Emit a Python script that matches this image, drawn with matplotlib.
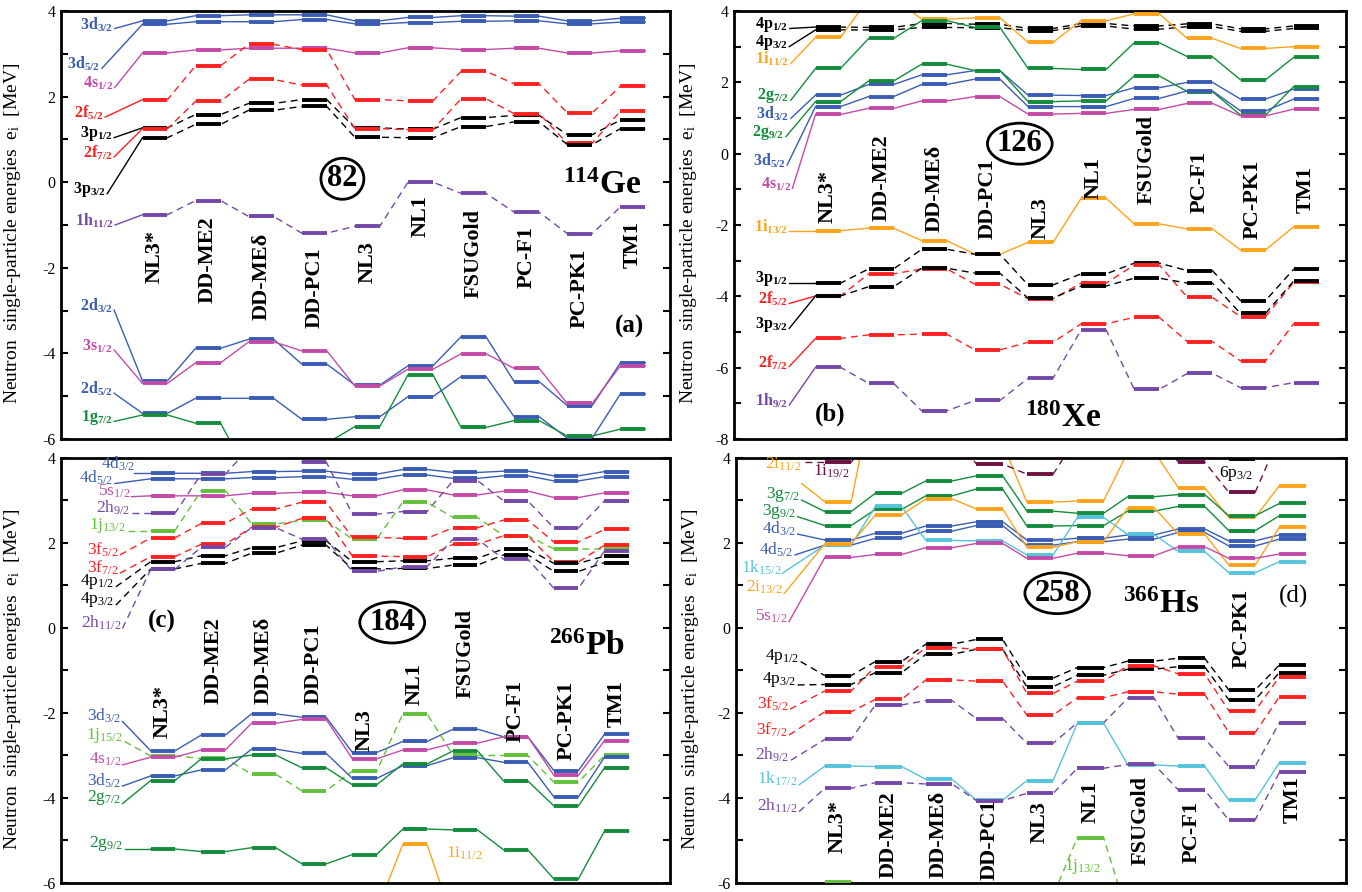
import numpy as np
import matplotlib
matplotlib.use("Agg")
import matplotlib.pyplot as plt
from matplotlib.ticker import MultipleLocator

plt.rcParams['font.family'] = ['Liberation Serif', 'DejaVu Serif']
plt.rcParams['mathtext.default'] = 'regular'
plt.rcParams['axes.unicode_minus'] = False

MODELS = ["NL3*", "DD-ME2", "DD-MEδ", "DD-PC1", "NL3", "NL1", "FSUGold", "PC-F1", "PC-PK1", "TM1"]

# ---------------- panel (a): 114Ge ----------------
A_LEVELS = ["3d$_{3/2}$", "3d$_{5/2}$", "4s$_{1/2}$", "2f$_{5/2}$", "3p$_{1/2}$", "2f$_{7/2}$",
            "3p$_{3/2}$", "1h$_{11/2}$", "2d$_{3/2}$", "3s$_{1/2}$", "2d$_{5/2}$", "1g$_{7/2}$"]
A_ENERGY = [
    [3.77, 3.89, 3.91, 3.91, 3.77, 3.85, 3.89, 3.88, 3.77, 3.83],
    [3.69, 3.75, 3.75, 3.80, 3.70, 3.73, 3.76, 3.77, 3.70, 3.74],
    [3.02, 3.09, 3.13, 3.13, 3.02, 3.14, 3.10, 3.13, 3.02, 3.07],
    [1.93, 2.72, 3.22, 3.10, 1.93, 1.90, 2.59, 2.30, 1.62, 2.24],
    [1.27, 1.58, 1.84, 1.93, 1.27, 1.24, 1.51, 1.56, 1.11, 1.45],
    [1.25, 1.89, 2.40, 2.27, 1.25, 1.23, 1.95, 1.60, 0.91, 1.66],
    [1.04, 1.35, 1.68, 1.77, 1.05, 1.04, 1.30, 1.41, 0.88, 1.25],
    [-0.76, -0.43, -0.80, -1.19, -1.03, 0.00, -0.26, -0.70, -1.20, -0.58],
    [-4.64, -3.88, -3.67, -4.25, -4.74, -4.29, -3.61, -4.66, -5.22, -4.22],
    [-4.70, -4.22, -3.73, -3.94, -4.76, -4.37, -4.01, -4.35, -5.17, -4.29],
    [-5.40, -5.05, -5.05, -5.54, -5.48, -5.01, -4.54, -5.48, -5.98, -4.95],
    [-5.44, -5.63, -6.86, -6.10, -5.71, -4.50, -5.73, -5.57, -5.93, -5.77],
]
A_LINE_Y = [3.59, 2.66, 2.21, 1.52, 1.04, 0.59, -0.27, -1.00, -2.99, -3.92, -4.93, -5.59]
A_TEXT_X = [0.21, -0.03, 0.21, 0.03, 0.20, 0.20, 0.07, 0.22, 0.20, 0.20, 0.20, 0.20]
A_COLOR = ['b', 'b', 'm', 'r', 'k', 'r', 'k', 'p', 'b', 'm', 'b', 'g']
A_DASH = [0, 0, 0, 1, 1, 1, 1, 1, 0, 0, 0, 0]
A_MODEL_BOTTOM = [-2.36, -2.82, -3.22, -3.41, -2.36, -1.28, -2.71, -2.47, -3.41, -2.00]

# ---------------- panel (b): 180Xe ----------------
B_LEVELS = ["4p$_{1/2}$", "4p$_{3/2}$", "1i$_{11/2}$", "2g$_{7/2}$", "3d$_{3/2}$", "2g$_{9/2}$",
            "3d$_{5/2}$", "4s$_{1/2}$", "1i$_{13/2}$", "3p$_{1/2}$", "2f$_{5/2}$", "3p$_{3/2}$",
            "2f$_{7/2}$", "1h$_{9/2}$"]
B_ENERGY = [
    [3.55, 3.54, 3.65, 3.63, 3.51, 3.65, 3.58, 3.64, 3.50, 3.58],
    [3.47, 3.47, 3.54, 3.53, 3.45, 3.58, 3.49, 3.56, 3.43, 3.51],
    [3.26, 4.35, 3.77, 3.81, 3.12, 3.73, 3.92, 3.23, 2.95, 3.00],
    [2.39, 3.23, 3.73, 3.54, 2.39, 2.36, 3.11, 2.72, 2.07, 2.70],
    [1.64, 1.94, 2.21, 2.33, 1.64, 1.63, 1.85, 2.00, 1.53, 1.81],
    [1.46, 2.04, 2.51, 2.33, 1.46, 1.48, 2.18, 1.74, 1.08, 1.88],
    [1.32, 1.60, 1.94, 2.09, 1.32, 1.32, 1.55, 1.76, 1.20, 1.53],
    [1.10, 1.27, 1.48, 1.60, 1.11, 1.13, 1.24, 1.41, 1.06, 1.25],
    [-2.16, -2.09, -2.44, -2.82, -2.49, -1.25, -1.97, -2.11, -2.70, -2.05],
    [-3.63, -3.23, -2.68, -2.82, -3.68, -3.37, -3.07, -3.28, -4.12, -3.24],
    [-3.99, -3.37, -3.23, -3.66, -4.07, -3.63, -3.12, -4.03, -4.57, -3.61],
    [-3.99, -3.73, -3.21, -3.35, -4.05, -3.71, -3.49, -3.63, -4.48, -3.57],
    [-5.18, -5.08, -5.06, -5.50, -5.29, -4.77, -4.59, -5.27, -5.81, -4.77],
    [-5.99, -6.44, -7.21, -6.92, -6.30, -4.94, -6.61, -6.16, -6.56, -6.42],
]
B_LINE_Y = [3.51, 3.00, 2.53, 1.50, 0.99, 0.48, -0.32, -0.97, -2.16, -3.63, -4.20, -4.90, -5.97, -7.05]
B_TEXT_X = [0.25, 0.24, 0.27, 0.27, 0.27, 0.18, 0.20, 0.30, 0.24, 0.24, 0.24, 0.24, 0.24, 0.24]
B_COLOR = ['k', 'k', 'o', 'g', 'b', 'g', 'b', 'm', 'o', 'k', 'r', 'k', 'r', 'p']
B_DASH = [1, 1, 0, 0, 0, 0, 0, 0, 0, 1, 1, 1, 1, 1]
B_MODEL_BOTTOM = [-1.95, -1.90, -2.20, -2.38, -2.38, -1.28, -1.42, -1.65, -2.38, -1.65]

# ---------------- panel (c): 266Pb ----------------
C_LEVELS = ["4d$_{3/2}$", "4d$_{5/2}$", "5s$_{1/2}$", "2h$_{9/2}$", "1j$_{13/2}$", "3f$_{5/2}$",
            "3f$_{7/2}$", "4p$_{1/2}$", "4p$_{3/2}$", "2h$_{11/2}$", "3d$_{3/2}$", "1j$_{15/2}$",
            "4s$_{1/2}$", "3d$_{5/2}$", "2g$_{7/2}$", "2g$_{9/2}$", "1i$_{11/2}$"]
C_ENERGY = [
    [3.64, 3.64, 3.68, 3.69, 3.62, 3.73, 3.66, 3.69, 3.58, 3.68],
    [3.51, 3.51, 3.54, 3.56, 3.50, 3.60, 3.52, 3.58, 3.46, 3.56],
    [3.11, 3.11, 3.17, 3.19, 3.11, 3.25, 3.13, 3.22, 3.07, 3.18],
    [2.70, 3.62, 4.30, 3.91, 2.68, 2.74, 3.47, 2.99, 2.35, 2.99],
    [2.29, 3.23, 2.45, 2.53, 2.09, 2.96, 2.60, 2.17, 1.86, 1.86],
    [2.12, 2.46, 2.80, 2.96, 2.13, 2.11, 2.36, 2.54, 2.02, 2.32],
    [1.68, 1.97, 2.37, 2.58, 1.69, 1.68, 1.97, 2.17, 1.55, 1.95],
    [1.56, 1.70, 1.89, 2.05, 1.56, 1.58, 1.64, 1.86, 1.52, 1.69],
    [1.39, 1.52, 1.76, 1.95, 1.39, 1.40, 1.48, 1.72, 1.33, 1.54],
    [1.38, 1.90, 2.36, 2.09, 1.33, 1.44, 2.09, 1.62, 0.93, 1.81],
    [-2.89, -2.52, -2.02, -2.10, -2.93, -2.67, -2.38, -2.56, -3.36, -2.50],
    [-3.01, -3.07, -3.44, -3.83, -3.37, -2.02, -3.00, -3.00, -3.63, -3.00],
    [-3.04, -2.87, -2.24, -2.15, -3.08, -2.87, -2.71, -2.56, -3.47, -2.65],
    [-3.48, -3.34, -2.85, -2.95, -3.54, -3.24, -3.05, -3.16, -3.98, -3.04],
    [-3.59, -3.08, -2.99, -3.29, -3.69, -3.20, -2.89, -3.60, -4.19, -3.29],
    [-5.20, -5.26, -5.17, -5.55, -5.33, -4.73, -4.75, -5.22, -5.91, -4.78],
    [-7.50, -7.50, -7.50, -7.50, -6.66, -5.09, -6.91, -7.50, -7.50, -7.50],
]
C_LINE_Y = [3.64, 3.40, 3.09, 2.70, 2.29, 1.72, 1.29, 0.97, 0.54, -0.01,
            -2.20, -2.67, -3.22, -3.72, -4.13, -5.20, None]
C_TEXT_X = [0.40, 0.02, 0.35, 0.35, 0.27, 0.12, 0.12, 0.04, 0.04, 0.17,
            0.17, 0.21, 0.17, 0.17, 0.17, 0.21, None]
C_COLOR = ['b', 'b', 'm', 'p', 'l', 'r', 'r', 'k', 'k', 'p', 'b', 'l', 'm', 'b', 'g', 'g', 'o']
C_DASH = [0, 0, 0, 1, 1, 1, 1, 1, 1, 1, 0, 1, 0, 0, 0, 0, 0]
C_TEXT_AT = {0: (0.45, 3.86, 'right'), 16: (6.62, -5.30, 'left')}
C_MODEL_BOTTOM = [-2.60, -1.78, -1.78, -1.78, -2.89, -1.82, -1.65, -2.68, -3.11, -2.33]

# ---------------- panel (d): 366Hs ----------------
D_LEVELS = ["2i$_{11/2}$", "1i$_{19/2}$", "6p$_{3/2}$", "3g$_{7/2}$", "3g$_{9/2}$", "4d$_{3/2}$",
            "4d$_{5/2}$", "1k$_{15/2}$", "2i$_{13/2}$", "5s$_{1/2}$", "4p$_{1/2}$", "4p$_{3/2}$",
            "3f$_{5/2}$", "3f$_{7/2}$", "2h$_{9/2}$", "1k$_{17/2}$", "2h$_{11/2}$", "1j$_{13/2}$"]
D_ENERGY = [
    [2.97, 5.80, 5.00, 4.35, 2.96, 2.99, 4.15, 3.30, 2.60, 3.35],
    [3.90, 4.60, 4.60, 3.86, 3.62, 4.50, 4.50, 3.91, 3.19, 4.50],
    [4.50, 4.50, 4.50, 4.50, 4.50, 4.50, 4.50, 4.40, 3.97, 4.40],
    [2.74, 3.17, 3.46, 3.58, 2.75, 2.70, 3.09, 3.14, 2.64, 2.93],
    [2.41, 2.79, 3.11, 3.27, 2.40, 2.41, 2.75, 2.86, 2.29, 2.64],
    [2.07, 2.23, 2.40, 2.50, 2.07, 2.11, 2.19, 2.33, 2.05, 2.19],
    [1.95, 2.11, 2.28, 2.41, 1.95, 2.03, 2.09, 2.25, 1.93, 2.09],
    [1.95, 2.86, 2.06, 2.05, 1.72, 2.60, 2.20, 1.80, 1.30, 1.56],
    [1.98, 2.66, 3.04, 2.80, 1.90, 2.03, 2.83, 2.21, 1.48, 2.37],
    [1.66, 1.73, 1.89, 1.99, 1.64, 1.76, 1.70, 1.91, 1.64, 1.74],
    [-1.12, -0.79, -0.38, -0.27, -1.18, -0.93, -0.78, -0.71, -1.46, -0.87],
    [-1.33, -1.05, -0.62, -0.50, -1.38, -1.11, -0.97, -0.91, -1.69, -1.05],
    [-1.48, -0.91, -0.46, -0.50, -1.54, -1.25, -0.89, -1.08, -1.95, -1.15],
    [-1.97, -1.68, -1.22, -1.25, -2.05, -1.64, -1.50, -1.56, -2.46, -1.62],
    [-2.62, -1.81, -1.71, -2.13, -2.71, -2.23, -1.65, -2.60, -3.26, -2.23],
    [-3.25, -3.26, -3.56, -4.05, -3.59, -2.24, -3.22, -3.25, -4.05, -3.17],
    [-3.77, -3.64, -3.67, -4.06, -3.89, -3.30, -3.21, -3.81, -4.52, -3.40],
    [-5.97, -7.00, -7.50, -7.50, -6.30, -4.93, -6.77, -7.50, -7.50, -7.50],
]
D_LINE_Y = [3.40, 3.90, None, 3.01, 2.62, 2.21, 1.72, 1.29, 0.82, 0.15,
            -0.79, -1.34, -1.91, -2.52, -3.11, -3.69, -4.32, None]
D_TEXT_X = [0.25, 0.32, None, 0.25, 0.17, 0.17, 0.12, -0.13, -0.09, 0.00,
            0.23, 0.17, 0.02, 0.00, 0.04, 0.20, 0.20, None]
D_COLOR = ['o', 'w', 'k', 'g', 'g', 'b', 'b', 'c', 'o', 'm', 'k', 'k', 'r', 'r', 'p', 'c', 'p', 'l']
D_DASH = [0, 1, 1, 0, 0, 0, 0, 0, 0, 0, 1, 1, 1, 1, 1, 0, 1, 1]
D_TEXT_AT = {0: (0.27, 3.86, 'right'), 1: (0.51, 3.68, 'left'),
             2: (8.55, 3.64, 'left'), 17: (5.47, -5.62, 'left')}
D_MODEL_BOTTOM = [-5.29, -5.88, -5.88, -5.93, -5.06, -4.59, -5.58, -5.53, -0.94, -4.59]

PALETTE = {'b': '#3a5cb4', 'm': '#c44aa8', 'r': '#ff2020', 'k': 'black', 'p': '#7448a8',
           'g': '#148c3c', 'o': '#ffa31a', 'l': '#62c03a', 'c': '#55c3da', 'w': '#6e1040'}

fig = plt.figure(figsize=(13.62, 8.92), dpi=100)
axA = fig.add_axes([0.04479, 0.50785, 0.44714, 0.47982])
axB = fig.add_axes([0.53891, 0.50785, 0.44934, 0.47982])
axC = fig.add_axes([0.04479, 0.01009, 0.44714, 0.47646])
axD = fig.add_axes([0.54038, 0.01009, 0.44787, 0.47646])

XS = np.arange(1, len(MODELS) + 1)


def setup(ax, ylim, xlim, ylab_x):
    ax.set_xlim(*xlim)
    ax.set_ylim(*ylim)
    ax.set_xticks([])
    ax.yaxis.set_major_locator(MultipleLocator(2))
    ax.yaxis.set_minor_locator(MultipleLocator(1))
    ax.tick_params(axis='y', which='both', direction='in', left=True, right=True,
                   length=5, width=1.5, labelsize=11.5, pad=4)
    for s in ax.spines.values():
        s.set_linewidth(2)
    ax.set_ylabel("Neutron  single-particle energies  e$_i$  [MeV]", fontsize=14)
    ax.yaxis.set_label_coords(ylab_x, 0.48)


def draw(ax, levels, energy, colors, dashes, line_y, text_x, bold, lab_solid, fs,
         hw, text_at=None, dy=3):
    text_at = text_at or {}
    for i, (name, vals) in enumerate(zip(levels, energy)):
        vals = np.asarray(vals, float)
        c = PALETTE[colors[i]]
        ls = (0, (5, 3.5)) if dashes[i] else '-'
        px = np.ravel(np.column_stack([XS - hw, XS + hw]))
        py = np.repeat(vals, 2)
        ax.plot(px, py, color=c, lw=1.0, ls=ls, zorder=2)
        ax.hlines(vals, XS - hw, XS + hw, colors=c, lw=2.8, zorder=3)
        w = 'bold' if bold else 'normal'
        if line_y[i] is not None:
            lls = '-' if lab_solid else ls
            ax.plot([text_x[i] + 0.03, XS[0] - hw], [line_y[i], vals[0]],
                    color=c, lw=1.0, ls=lls, zorder=2)
        if i in text_at:
            tx, ty, ha = text_at[i]
            ax.text(tx, ty, name, ha=ha, va='center', color=c, fontsize=fs, weight=w)
        elif line_y[i] is not None:
            ax.annotate(name, xy=(text_x[i], line_y[i]), xytext=(0, dy),
                        textcoords='offset points', ha='right', va='center',
                        color=c, fontsize=fs, weight=w)


def model_labels(ax, bottoms):
    for x, name, yb in zip(XS, MODELS, bottoms):
        ax.text(x, yb, name, rotation=90, ha='center', va='bottom',
                fontsize=16, weight='bold', zorder=5)


ell = dict(boxstyle='ellipse,pad=0.0', fc='none', ec='black', lw=2)

# (a)
setup(axA, (-6, 4), (-0.77, 10.70), -0.062)
draw(axA, A_LEVELS, A_ENERGY, A_COLOR, A_DASH, A_LINE_Y, A_TEXT_X, True, True, 11.5, 0.235)
model_labels(axA, A_MODEL_BOTTOM)
axA.text(4.53, 0.08, "82", ha='center', va='center', fontsize=22, weight='bold', bbox=ell)
axA.text(10.15, -0.27, "$^{114}$Ge", ha='right', va='baseline', fontsize=24, weight='bold')
axA.text(10.21, -3.36, "(a)", ha='right', va='center', fontsize=18, weight='bold')

# (b)
setup(axB, (-8, 4), (-0.77, 10.75), -0.057)
draw(axB, B_LEVELS, B_ENERGY, B_COLOR, B_DASH, B_LINE_Y, B_TEXT_X, True, True, 11.5, 0.235)
model_labels(axB, B_MODEL_BOTTOM)
axB.text(4.61, 0.28, "126", ha='center', va='center', fontsize=22, weight='bold', bbox=ell)
axB.text(6.14, -7.65, "$^{180}$Xe", ha='right', va='baseline', fontsize=24, weight='bold')
axB.text(1.05, -7.30, "(b)", ha='center', va='center', fontsize=18, weight='bold')

# (c)
setup(axC, (-6, 4), (-1.02, 11.06), -0.062)
draw(axC, C_LEVELS, C_ENERGY, C_COLOR, C_DASH, C_LINE_Y, C_TEXT_X, False, False, 12.5,
     0.24, C_TEXT_AT, dy=4)
model_labels(axC, C_MODEL_BOTTOM)
axC.text(5.55, 0.13, "184", ha='center', va='center', fontsize=22, weight='bold', bbox=ell)
axC.text(10.16, -0.63, "$^{266}$Pb", ha='right', va='baseline', fontsize=24, weight='bold')
axC.text(0.98, 0.15, "(c)", ha='center', va='center', fontsize=18, weight='bold')

# (d)
setup(axD, (-6, 4), (-1.02, 11.06), -0.057)
draw(axD, D_LEVELS, D_ENERGY, D_COLOR, D_DASH, D_LINE_Y, D_TEXT_X, False, False, 12.5,
     0.26, D_TEXT_AT, dy=4)
model_labels(axD, D_MODEL_BOTTOM)
axD.text(5.34, 0.82, "258", ha='center', va='center', fontsize=22, weight='bold', bbox=ell)
axD.text(8.16, 0.35, "$^{366}$Hs", ha='right', va='baseline', fontsize=24, weight='bold')
axD.text(10.02, 0.74, "(d)", ha='center', va='center', fontsize=18)

fig.savefig("out.png", dpi=100)
